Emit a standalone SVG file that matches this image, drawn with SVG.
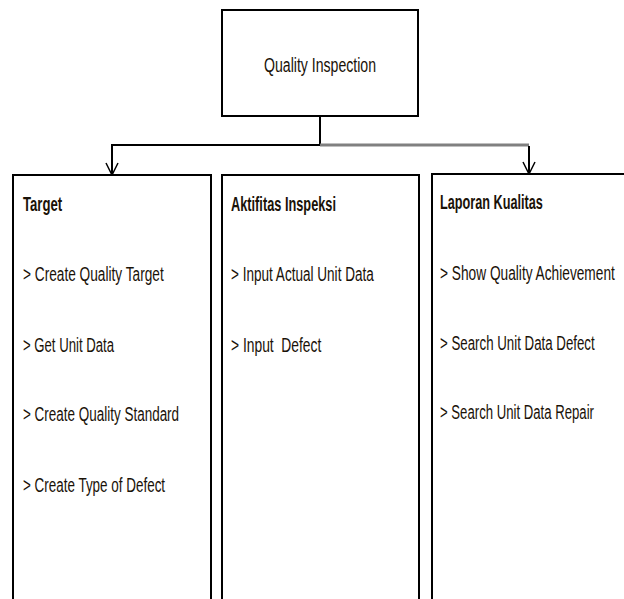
<svg xmlns="http://www.w3.org/2000/svg" width="624" height="599" viewBox="0 0 624 599">
  <style>
    .box { fill: #ffffff; stroke: #000000; stroke-width: 2; }
    .wire { fill: none; stroke: #000000; stroke-width: 2; }
    .txt { font-family: "Liberation Sans", Arial, sans-serif; font-size: 21px; fill: #1a1208; }
    .head { font-weight: bold; }
  </style>
  <defs>
    <!-- open V arrowhead, tip on the line end -->
    <marker id="vee" viewBox="0 0 14 14" refX="13" refY="7" markerWidth="14" markerHeight="14" markerUnits="userSpaceOnUse" orient="auto">
      <path d="M1 1 L13 7 L1 13" fill="none" stroke="#000000" stroke-width="1.5"/>
    </marker>
  </defs>
  <rect width="624" height="599" fill="#ffffff"/>

  <g id="connectors">
    <path class="wire" d="M320 116 V145"/>
    <path class="wire" d="M320 145 H112 V175" marker-end="url(#vee)"/>
    <path d="M320 145 H529" fill="none" stroke="#808080" stroke-width="3"/>
    <path class="wire" d="M529 146 V174" marker-end="url(#vee)"/>
  </g>

  <!-- labels use a condensed face: scaled to about 70% width -->
  <g id="quality-inspection">
    <rect class="box" x="222" y="10" width="196" height="106"/>
    <text class="txt" transform="translate(264 72) scale(0.7 1)" textLength="160" lengthAdjust="spacingAndGlyphs">Quality Inspection</text>
  </g>

  <g id="target">
    <rect class="box" x="13" y="175" width="198" height="430"/>
    <text class="txt head" transform="translate(23 211) scale(0.7 1)" textLength="56" lengthAdjust="spacingAndGlyphs">Target</text>
    <text class="txt" transform="translate(23 281) scale(0.7 1)" textLength="201" lengthAdjust="spacingAndGlyphs">&gt; Create Quality Target</text>
    <text class="txt" transform="translate(23 352) scale(0.7 1)" textLength="130" lengthAdjust="spacingAndGlyphs">&gt; Get Unit Data</text>
    <text class="txt" transform="translate(23 421) scale(0.7 1)" textLength="223" lengthAdjust="spacingAndGlyphs">&gt; Create Quality Standard</text>
    <text class="txt" transform="translate(23 492) scale(0.7 1)" textLength="203" lengthAdjust="spacingAndGlyphs">&gt; Create Type of Defect</text>
  </g>

  <g id="aktifitas-inspeksi">
    <rect class="box" x="222" y="175" width="197" height="430"/>
    <text class="txt head" transform="translate(231 211) scale(0.7 1)" textLength="150" lengthAdjust="spacingAndGlyphs">Aktifitas Inspeksi</text>
    <text class="txt" transform="translate(231 281) scale(0.7 1)" textLength="204" lengthAdjust="spacingAndGlyphs">&gt; Input Actual Unit Data</text>
    <text class="txt" transform="translate(231 352) scale(0.7 1)" textLength="129" lengthAdjust="spacingAndGlyphs" xml:space="preserve">&gt; Input  Defect</text>
  </g>

  <g id="laporan-kualitas">
    <path class="wire" d="M626 174 H432 V605"/>
    <text class="txt head" transform="translate(440 209) scale(0.7 1)" textLength="147" lengthAdjust="spacingAndGlyphs">Laporan Kualitas</text>
    <text class="txt" transform="translate(440 280) scale(0.65 1)" textLength="269" lengthAdjust="spacingAndGlyphs">&gt; Show Quality Achievement</text>
    <text class="txt" transform="translate(440 350) scale(0.7 1)" textLength="221" lengthAdjust="spacingAndGlyphs">&gt; Search Unit Data Defect</text>
    <text class="txt" transform="translate(440 419) scale(0.7 1)" textLength="220" lengthAdjust="spacingAndGlyphs">&gt; Search Unit Data Repair</text>
  </g>
</svg>
